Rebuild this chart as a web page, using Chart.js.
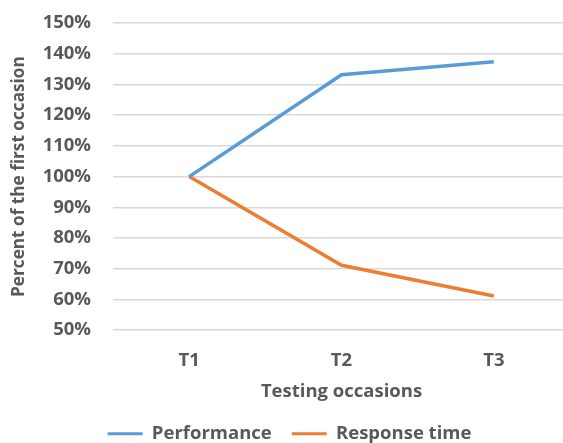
<!DOCTYPE html>
<html>
<head>
<meta charset="utf-8">
<script src="https://cdn.jsdelivr.net/npm/chart.js@4/dist/chart.umd.min.js"></script>
<style>
html,body{margin:0;padding:0;background:#fff;overflow:hidden;}
#wrap{position:absolute;left:0;top:-10px;width:570px;height:463px;}
</style>
</head>
<body>
<div id="wrap"><canvas id="c"></canvas></div>
<script>
const categories = ["T1", "T2", "T3"];
const performance = [100, 133.2, 137.4];
const responseTime = [100, 71.1, 61.1];
const yTicks = [50, 60, 70, 80, 90, 100, 110, 120, 130, 140, 150];

const textColor = '#595959';
const fontFamily = '"Open Sans", sans-serif';
const font = { family: fontFamily, size: 18.5, weight: 'bold' };

new Chart(document.getElementById('c'), {
  type: 'line',
  data: {
    labels: categories,
    datasets: [
      { label: 'Performance', data: performance, borderColor: '#5B9BD5', backgroundColor: '#5B9BD5', borderWidth: 3.5, pointRadius: 0, tension: 0, fill: false },
      { label: 'Response time', data: responseTime, borderColor: '#ED7D31', backgroundColor: '#ED7D31', borderWidth: 3.5, pointRadius: 0, tension: 0, fill: false }
    ]
  },
  options: {
    responsive: true,
    maintainAspectRatio: false,
    animation: false,
    layout: { padding: { top: 0, right: 0, bottom: 0, left: 9 } },
    plugins: {
      legend: {
        position: 'bottom',
        labels: {
          color: textColor,
          font: font,
          boxWidth: 35, boxHeight: 3, padding: 20,
          generateLabels(chart) {
            return chart.data.datasets.map((ds, i) => ({
              text: ds.label, fillStyle: ds.borderColor, strokeStyle: ds.borderColor,
              lineWidth: 0, hidden: false, datasetIndex: i, fontColor: textColor
            }));
          }
        }
      },
      tooltip: { enabled: false }
    },
    scales: {
      x: {
        offset: true,
        grid: { display: false, drawTicks: false },
        border: { display: false },
        ticks: { color: textColor, font: font, padding: 20 },
        title: { display: true, text: 'Testing occasions', color: textColor, font: font, padding: { top: -12, bottom: 2 } }
      },
      y: {
        min: 50, max: 150,
        afterBuildTicks(scale) { scale.ticks = yTicks.map(v => ({ value: v })); },
        grid: { color: '#D9D9D9', lineWidth: 1.5, drawTicks: false },
        border: { display: false },
        ticks: { color: textColor, font: font, padding: 22, callback: v => v + '%' },
        title: { display: true, text: 'Percent of the first occasion', color: textColor, font: { family: fontFamily, size: 17.2, weight: 'bold' }, padding: { top: 0, bottom: -9 } }
      }
    }
  }
});
</script>
</body>
</html>
